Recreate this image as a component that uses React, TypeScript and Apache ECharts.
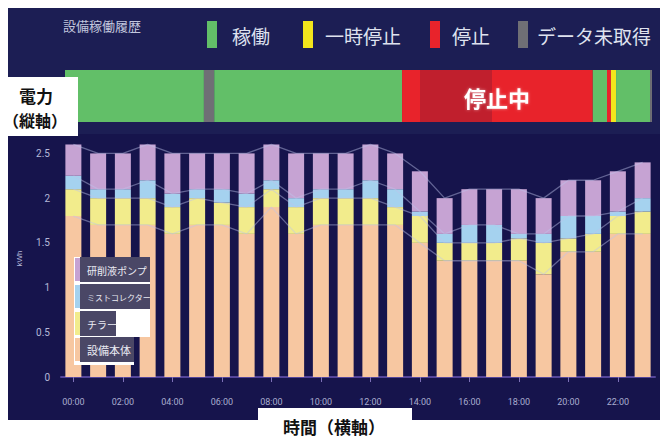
import React, { useEffect, useRef } from "react";
import * as echarts from "echarts";

// ---- bar chart data (kWh per hour) ----
const hours = [
  "00:00", "01:00", "02:00", "03:00", "04:00", "05:00", "06:00", "07:00",
  "08:00", "09:00", "10:00", "11:00", "12:00", "13:00", "14:00", "15:00",
  "16:00", "17:00", "18:00", "19:00", "20:00", "21:00", "22:00", "23:00",
];
const mainBody = [1.8, 1.7, 1.7, 1.7, 1.6, 1.7, 1.7, 1.6, 1.9, 1.6, 1.7, 1.7, 1.7, 1.7, 1.5, 1.3, 1.3, 1.3, 1.3, 1.15, 1.4, 1.4, 1.6, 1.6];
const chiller = [0.3, 0.3, 0.3, 0.3, 0.3, 0.3, 0.25, 0.3, 0.2, 0.3, 0.3, 0.3, 0.3, 0.2, 0.3, 0.2, 0.2, 0.2, 0.25, 0.35, 0.15, 0.2, 0.2, 0.25];
const mistCollector = [0.15, 0.1, 0.1, 0.2, 0.15, 0.1, 0.15, 0.15, 0.1, 0.1, 0.1, 0.1, 0.2, 0.2, 0.05, 0.1, 0.2, 0.2, 0.05, 0.1, 0.25, 0.2, 0.05, 0.15];
const coolantPump = [0.35, 0.4, 0.4, 0.4, 0.45, 0.4, 0.4, 0.45, 0.4, 0.5, 0.4, 0.4, 0.4, 0.4, 0.45, 0.4, 0.4, 0.4, 0.5, 0.4, 0.4, 0.4, 0.45, 0.4];

const barNames = ["設備本体", "チラー", "ミストコレクター", "研削液ポンプ"];
const barColors = ["#f7c7a1", "#f2ec8c", "#a5d2ef", "#c6a3d3"];
const yTicks = [0, 0.5, 1, 1.5, 2, 2.5];

// ---- status timeline data (hours) ----
const statusNames = ["稼働", "一時停止", "停止", "データ未取得"];
const statusColors = ["#62bf68", "#f2e51c", "#e8232b", "#6f6f75"];
// [start hour, end hour, status index]
const statusSegments = [
  [0, 5.68, 0],
  [5.68, 6.1, 3],
  [6.1, 13.78, 0],
  [13.78, 21.58, 2],
  [21.58, 22.16, 0],
  [22.16, 22.32, 2],
  [22.32, 22.53, 1],
  [22.53, 23.92, 0],
  [23.92, 24, 3],
];

const JP = '"Noto Sans CJK JP", "Noto Sans", sans-serif';

export default function App() {
  const ref = useRef<HTMLDivElement>(null);

  useEffect(() => {
    if (!ref.current) return;
    const chart = echarts.init(ref.current, null, { renderer: "svg" });

    const seriesData = [mainBody, chiller, mistCollector, coolantPump];

    const barSeries = seriesData.map((d, i) => ({
      name: barNames[i],
      type: "bar",
      stack: "power",
      xAxisIndex: 0,
      yAxisIndex: 0,
      barWidth: 16,
      data: d,
      itemStyle: { color: barColors[i] },
      z: 2,
    }));

    const lineSeries = seriesData.map((d, i) => ({
      name: barNames[i] + "_line",
      type: "line",
      stack: "powerLine",
      xAxisIndex: 0,
      yAxisIndex: 0,
      data: d,
      symbol: "none",
      lineStyle: { color: "rgba(190,196,235,0.45)", width: 1.3 },
      z: 3,
      silent: true,
    }));

    const statusLegendX = [207, 303, 430, 518];
    const statusTextX = [232, 325, 452, 537];

    const graphics: any[] = [
      // panel
      { type: "rect", z: -10, shape: { x: 8, y: 8, width: 652, height: 412 }, style: { fill: "#16144c" } },
      { type: "rect", z: -9, shape: { x: 8, y: 8, width: 652, height: 126 }, style: { fill: "#1c1e54" } },
      // title
      {
        type: "text", z: 10, x: 63, y: 25,
        style: { text: "設備稼働履歴", fill: "#c3c7de", font: `13px ${JP}`, textVerticalAlign: "middle" },
      },
      // dim overlay on part of the status bar
      { type: "rect", z: 50, shape: { x: 420, y: 70, width: 72, height: 52 }, style: { fill: "rgba(70,20,50,0.25)" } },
      {
        type: "text", z: 60, x: 497, y: 97,
        style: {
          text: "停止中", fill: "#ffffff", font: `bold 22px ${JP}`,
          textAlign: "center", textVerticalAlign: "middle",
          textShadowColor: "rgba(255,255,255,0.5)", textShadowBlur: 3,
        },
      },
      // left label box
      { type: "rect", z: 100, shape: { x: 0, y: 77, width: 78, height: 59 }, style: { fill: "#ffffff" } },
      {
        type: "text", z: 101, x: 36, y: 95,
        style: { text: "電力", fill: "#111", font: `bold 17px ${JP}`, textAlign: "center", textVerticalAlign: "middle" },
      },
      {
        type: "text", z: 101, x: 35, y: 120,
        style: { text: "（縦軸）", fill: "#111", font: `bold 16px ${JP}`, textAlign: "center", textVerticalAlign: "middle" },
      },
      // bottom label box
      { type: "rect", z: 100, shape: { x: 258, y: 408, width: 154, height: 34 }, style: { fill: "#ffffff" } },
      {
        type: "text", z: 101, x: 334, y: 426,
        style: { text: "時間（横軸）", fill: "#111", font: `bold 17px ${JP}`, textAlign: "center", textVerticalAlign: "middle" },
      },
      // bar legend backdrop
      { type: "rect", z: 100, shape: { x: 74, y: 257, width: 76, height: 80 }, style: { fill: "#ffffff" } },
      { type: "rect", z: 100, shape: { x: 74, y: 337, width: 60, height: 28 }, style: { fill: "#ffffff" } },
    ];

    statusNames.forEach((n, i) => {
      graphics.push({
        type: "rect", z: 10,
        shape: { x: statusLegendX[i], y: 21, width: 10, height: 27 },
        style: { fill: statusColors[i] },
      });
      graphics.push({
        type: "text", z: 10, x: statusTextX[i], y: 35,
        style: { text: n, fill: "#dfe2ef", font: `19px ${JP}`, textVerticalAlign: "middle" },
      });
    });

    // custom-styled bar legend (top to bottom)
    const legendItems = [
      { idx: 3, y: 257, w: 76, font: 10 },
      { idx: 2, y: 284, w: 76, font: 8 },
      { idx: 1, y: 311, w: 42, font: 10 },
      { idx: 0, y: 337, w: 60, font: 11 },
    ];
    legendItems.forEach((it) => {
      graphics.push({
        type: "rect", z: 101,
        shape: { x: 80, y: it.y, width: it.w - 6, height: 25 },
        style: { fill: "#4a4766" },
      });
      graphics.push({
        type: "rect", z: 102,
        shape: { x: 75, y: it.y + 1, width: 5, height: 23 },
        style: { fill: barColors[it.idx] },
      });
      graphics.push({
        type: "text", z: 102, x: 87, y: it.y + 13,
        style: { text: barNames[it.idx], fill: "#ebebf3", font: `${it.font}px ${JP}`, textVerticalAlign: "middle" },
      });
    });

    chart.setOption({
      animation: false,
      backgroundColor: "#ffffff",
      grid: [
        { left: 61, right: 9, top: 140, bottom: 65 },
        { left: 65, right: 12, top: 70, height: 52 },
      ],
      xAxis: [
        {
          type: "category",
          gridIndex: 0,
          data: hours,
          axisLine: { show: true, lineStyle: { color: "#54459a", width: 2 } },
          axisTick: { show: true, alignWithLabel: true, interval: 1, length: 5, lineStyle: { color: "#7d70b8" } },
          axisLabel: { interval: 1, color: "#a9adcf", fontSize: 9, margin: 20, fontFamily: "Roboto" },
          splitLine: { show: false },
        },
        { type: "value", gridIndex: 1, min: 0, max: 24, show: false },
      ],
      yAxis: [
        {
          type: "value",
          gridIndex: 0,
          min: yTicks[0],
          max: 2.65,
          interval: 0.5,
          axisLine: { show: false },
          axisTick: { show: false },
          splitLine: { show: false },
          axisLabel: { color: "#b4b8d8", fontSize: 10, margin: 11, showMaxLabel: false, fontFamily: "Roboto" },
          name: "kWh",
          nameLocation: "middle",
          nameGap: 38,
          nameRotate: 90,
          nameTextStyle: { color: "#b4b8d8", fontSize: 8 },
        },
        { type: "value", gridIndex: 1, min: 0, max: 1, show: false },
      ],
      graphic: graphics,
      series: [
        {
          name: "設備稼働履歴",
          type: "custom",
          xAxisIndex: 1,
          yAxisIndex: 1,
          encode: { x: [0, 1] },
          data: statusSegments,
          renderItem: (params: any, api: any) => {
            const s = api.value(0);
            const e = api.value(1);
            const st = api.value(2);
            const p0 = api.coord([s, 1]);
            const p1 = api.coord([e, 0]);
            return {
              type: "rect",
              shape: { x: p0[0], y: p0[1], width: p1[0] - p0[0], height: p1[1] - p0[1] },
              style: { fill: statusColors[st] },
            };
          },
          z: 5,
        },
        ...barSeries,
        ...lineSeries,
      ],
    });

    return () => chart.dispose();
  }, []);

  return (
    <div
      ref={ref}
      style={{ position: "absolute", left: 0, top: 0, width: 664, height: 442, background: "#fff" }}
    />
  );
}
